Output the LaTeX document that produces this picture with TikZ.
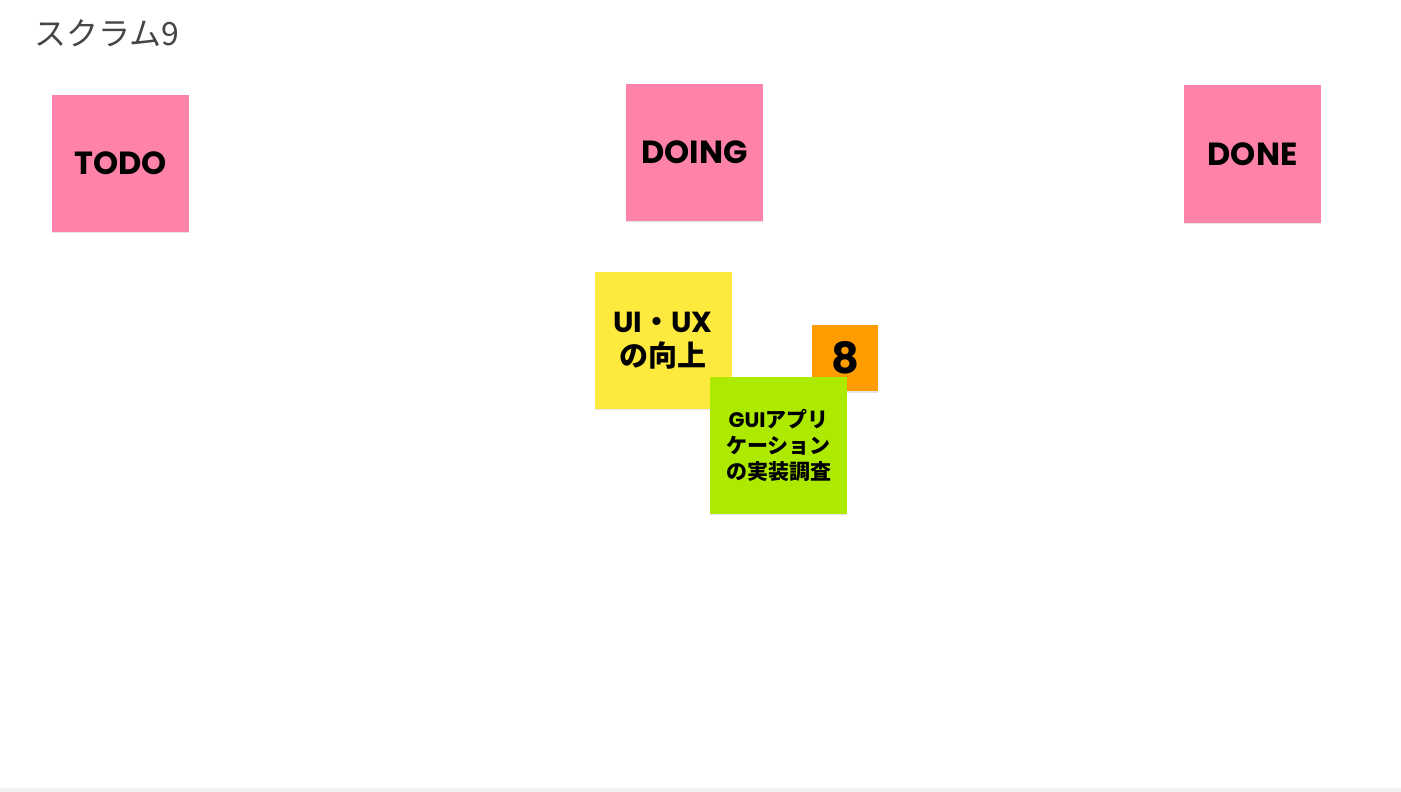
\documentclass[tikz,border=0pt]{standalone}
\usepackage{fontspec}
\newfontfamily\jp{Noto Sans CJK JP}
\newfontfamily\lat{Poppins}
\usetikzlibrary{calc}
\definecolor{notepink}{HTML}{FF82A9}
\definecolor{noteyellow}{HTML}{FEEA3E}
\definecolor{notegreen}{HTML}{AEEA00}
\definecolor{noteorange}{HTML}{FF9C00}
\definecolor{titlegray}{HTML}{454545}
\definecolor{stripgray}{HTML}{F1F2F4}
\tikzset{
  sticky/.style={minimum width=137pt, minimum height=137pt, inner sep=0pt,
    align=center, font=\lat\bfseries, text=black},
  shade/.style={fill=black!10},
}

\begin{document}
\begin{tikzpicture}[x=1pt, y=-1pt]

  % Page and bottom strip
  \useasboundingbox (0,0) rectangle (1401,792);
  \fill[white] (0,0) rectangle (1401,792);
  \fill[stripgray] (0,788) rectangle (1401,792);

  % Title
  \node[anchor=west, inner sep=0pt, text=titlegray, font=\jp\fontsize{32}{36}\selectfont] (title) at (34,33) {スクラム9};

  % Define note centres
  \coordinate (T) at (120.5,163.5);
  \coordinate (G) at (694.5,152.5);
  \coordinate (D) at (1252.5,154);
  \coordinate (Y) at (663,340.5);
  \coordinate (C) at (778.5,445.5);
  \coordinate (P) at (845,358);

  % Shadows
  \foreach \c in {T,G,D,Y,C}
    \fill[shade] ($(\c)+(-68.5,-66.5)$) rectangle ($(\c)+(68.5,69.5)$);

  % Column heads
  \node[sticky, fill=notepink, font=\lat\bfseries\fontsize{32}{36}\selectfont] (todo) at (T) {TODO};
  \node[sticky, fill=notepink, font=\lat\bfseries\fontsize{32}{36}\selectfont] (doing) at (G) {DOING};
  \node[sticky, fill=notepink, font=\lat\bfseries\fontsize{32}{36}\selectfont] (done) at (D) {DONE};

  % Story and task
  \node[sticky, fill=noteyellow, font=\lat\bfseries\fontsize{29}{34}\selectfont] (story) at (Y)
    {UI{\jp\bfseries ・}UX\\{\jp\bfseries の向上}};
  \fill[shade] ($(P)+(-33,-31.5)$) rectangle ($(P)+(33,34.5)$);
  \node[sticky, fill=noteorange, minimum width=66pt, minimum height=66pt,
    font=\lat\bfseries\fontsize{43}{46}\selectfont] (points) at (P) {8};
  \node[sticky, fill=notegreen, font=\lat\bfseries\fontsize{21}{26}\selectfont] (task) at (C)
    {GUI{\jp\bfseries アプリ}\\{\jp\bfseries ケーション}\\{\jp\bfseries の実装調査}};

\end{tikzpicture}
\end{document}
